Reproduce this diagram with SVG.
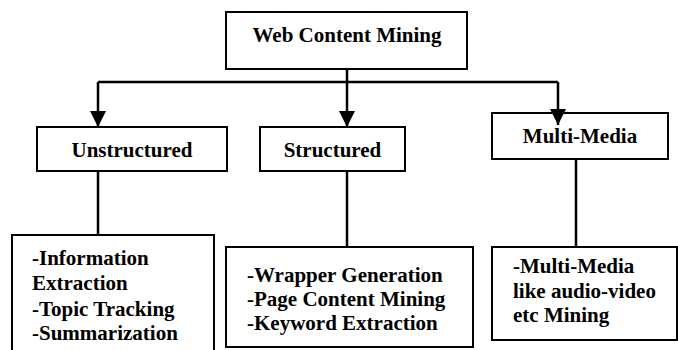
<svg xmlns="http://www.w3.org/2000/svg" width="678" height="350" viewBox="0 0 678 350">
<style>
.box{fill:#fff;stroke:#000;stroke-width:2}
.t{font-family:'Liberation Serif','Times New Roman','DejaVu Serif',Times,serif;font-weight:700;font-size:21px;fill:#000}
.c{text-anchor:middle}
.ln{stroke:#000;stroke-width:2.5;fill:none}
</style>
<defs>
<marker id="ah" markerUnits="userSpaceOnUse" markerWidth="17" markerHeight="16" refX="16" refY="8" orient="auto">
<path d="M0,0 L16,8 L0,16 Z" fill="#000"/>
</marker>
</defs>
<rect width="678" height="350" fill="#fff"/>
<g id="root">
<rect class="box" x="226" y="12" width="241" height="57"/>
<text class="t c" x="347" y="42" font-family="Liberation Serif, serif">Web Content Mining</text>
</g>
<g id="unstructured">
<rect class="box" x="37" y="127" width="190" height="44"/>
<text class="t c" x="132" y="157">Unstructured</text>
</g>
<g id="structured">
<rect class="box" x="260" y="127" width="145" height="44"/>
<text class="t c" x="332.5" y="157">Structured</text>
</g>
<g id="multimedia">
<rect class="box" x="492" y="113" width="176" height="46"/>
<text class="t c" x="580" y="143">Multi-Media</text>
</g>
<g id="unstructured-items">
<rect class="box" x="12" y="235" width="202" height="130"/>
<text class="t" x="32" y="265">-Information</text>
<text class="t" x="32" y="290">Extraction</text>
<text class="t" x="32" y="316">-Topic Tracking</text>
<text class="t" x="32" y="340">-Summarization</text>
</g>
<g id="structured-items">
<rect class="box" x="226" y="247" width="247" height="100"/>
<text class="t" x="247" y="282">-Wrapper Generation</text>
<text class="t" x="247" y="306">-Page Content Mining</text>
<text class="t" x="247" y="330">-Keyword Extraction</text>
</g>
<g id="multimedia-items">
<rect class="box" x="492" y="247" width="185" height="93"/>
<text class="t" x="513" y="273">-Multi-Media</text>
<text class="t" x="513" y="298">like audio-video</text>
<text class="t" x="513" y="322">etc Mining</text>
</g>
<g id="connectors">
<path class="ln" d="M347,69 V82"/>
<path class="ln" d="M98,82 H558"/>
<path class="ln" d="M98,82 V127" marker-end="url(#ah)"/>
<path class="ln" d="M347,82 V127" marker-end="url(#ah)"/>
<path class="ln" d="M558,82 V125" marker-end="url(#ah)"/>
<path class="ln" d="M98,171 V235"/>
<path class="ln" d="M347,171 V247"/>
<path class="ln" d="M576,159 V247"/>
</g>
</svg>
